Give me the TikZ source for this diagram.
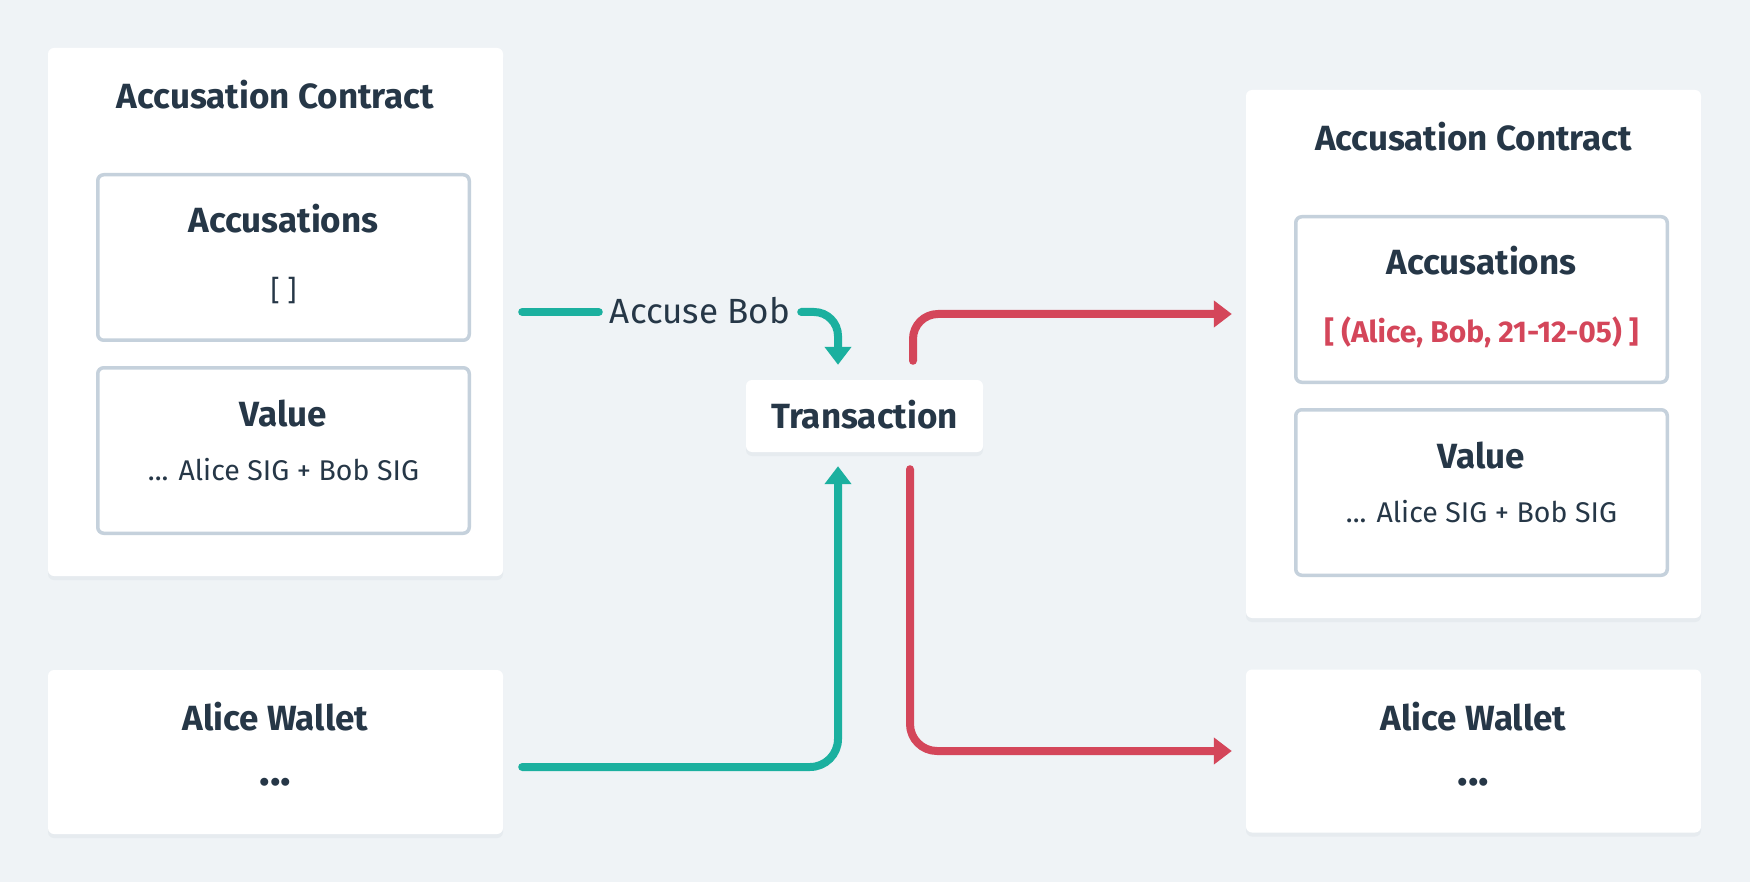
\documentclass[tikz,border=0pt]{standalone}
\usepackage{fontspec}
\setmainfont{Fira Sans}
\usetikzlibrary{arrows.meta,calc}
\definecolor{bgcol}{HTML}{EFF3F6}
\definecolor{ink}{HTML}{263747}
\definecolor{gcol}{HTML}{1BB09F}
\definecolor{rcol}{HTML}{D4465A}
\definecolor{bcol}{HTML}{C5D1DC}
\definecolor{shcol}{HTML}{E6EBEF}
\begin{document}
\begin{tikzpicture}[x=1pt,y=-1pt,
  card/.style={fill=white, rounded corners=6pt, inner sep=0pt,
    preaction={fill=shcol, transform canvas={yshift=-4pt}}},
  inbox/.style={fill=white, draw=bcol, line width=3.5pt, rounded corners=6pt, inner sep=0pt,
    minimum width=371.5pt, minimum height=165.5pt},
  ttl/.style={font=\fontsize{35}{40}\selectfont\bfseries, text=ink, anchor=base, inner sep=0pt},
  dots/.style={font=\fontsize{44}{48}\selectfont\bfseries, text=ink, anchor=base, inner sep=0pt},
  bodytxt/.style={font=\fontsize{28.5}{32}\selectfont, text=ink, anchor=base, inner sep=0pt},
  redtxt/.style={font=\fontsize{30}{36}\selectfont\bfseries, text=rcol, anchor=base, inner sep=0pt},
  gline/.style={draw=gcol, line width=8pt, line cap=round},
  rline/.style={draw=rcol, line width=8pt, line cap=round},
  tipend/.style={-{Triangle[length=18pt,width=26pt]}},
]
\fill[bgcol] (0,0) rectangle (1750,882);
\useasboundingbox (0,0) rectangle (1750,882);

% left contract
\node[card, minimum width=455pt, minimum height=528pt] (ac1) at (275.5,312) {};
\node[inbox] (acc1) at (283.5,257.5) {};
\node[inbox] (val1) at (283.5,450.5) {};
\node[ttl] (ac1t) at (275.5,109) {Accusation Contract};
\node[ttl] (acc1t) at (283.5,233) {Accusations};
\node[bodytxt] (acc1v) at (283.5,301) {[ ]};
\node[ttl] (val1t) at (283.5,426) {Value};
\node[bodytxt] (val1v) at (283.5,480) {... Alice SIG + Bob SIG};

% left wallet
\node[card, minimum width=455pt, minimum height=164pt] (aw1) at (275.5,752) {};
\node[ttl] (aw1t) at (275.5,730) {Alice Wallet};
\node[dots] (aw1v) at (275.5,785) {...};

% right contract
\node[card, minimum width=455pt, minimum height=528pt] (ac2) at (1473.5,354) {};
\node[inbox] (acc2) at (1481.5,299.5) {};
\node[inbox] (val2) at (1481.5,492.5) {};
\node[ttl] (ac2t) at (1473.5,151) {Accusation Contract};
\node[ttl] (acc2t) at (1481.5,275) {Accusations};
\node[redtxt] (acc2v) at (1481.5,343) {[ (Alice, Bob, 21-12-05) ]};
\node[ttl] (val2t) at (1481.5,468) {Value};
\node[bodytxt] (val2v) at (1481.5,522) {... Alice SIG + Bob SIG};

% right wallet
\node[card, minimum width=455pt, minimum height=163pt] (aw2) at (1473.5,751) {};
\node[ttl] (aw2t) at (1473.5,730) {Alice Wallet};
\node[dots] (aw2v) at (1473.5,785) {...};

% transaction
\node[card, minimum width=237pt, minimum height=72pt] (tx) at (864.5,416) {};
\node[ttl] (txt) at (864.5,428) {Transaction};

% label
\node[font=\fontsize{35}{40}\selectfont, text=ink, inner xsep=11pt, inner ysep=0pt] (lbl) at (700,311) {Accuse Bob};

% green connectors
\draw[gline, shorten <=19pt] (ac1.east) -- (ac1.east -| lbl.west);
\draw[gline, tipend, rounded corners=24pt, shorten >=15pt] (lbl.east |- ac1.east) -| ($(tx.north)+(-26.5,0)$);
\draw[gline, tipend, rounded corners=28pt, shorten >=14pt] ($(aw1.east)+(19,15)$) -| ($(tx.south)+(-26.5,0)$);

% red connectors
\draw[rline, tipend, rounded corners=25pt, shorten >=14pt] ($(tx.north)+(48.5,-19)$) |- ($(ac2.west)+(0,-40)$);
\draw[rline, tipend, rounded corners=27pt, shorten >=14pt] ($(tx.south)+(45.5,17)$) |- (aw2.west);
\end{tikzpicture}
\end{document}
